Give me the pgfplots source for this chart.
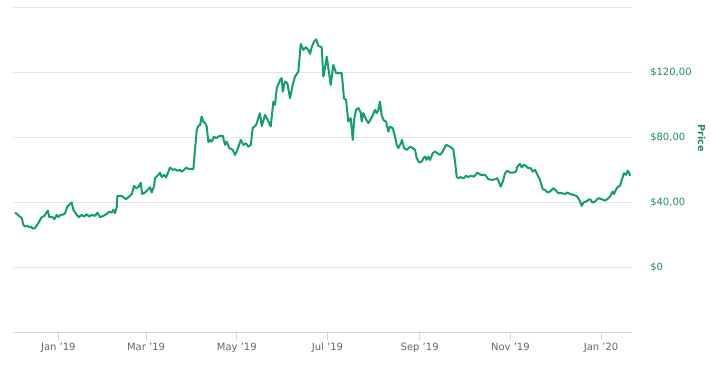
\documentclass[border=0pt]{standalone}
\usepackage{pgfplots}
\pgfplotsset{compat=1.18}
\usepackage{fontspec}
\setmainfont{DejaVu Sans}
\definecolor{linec}{HTML}{129E72}
\definecolor{labc}{HTML}{1E8C68}
\definecolor{gridc}{HTML}{E6E6E6}
\definecolor{axisc}{HTML}{CCD6EB}
\definecolor{tickc}{HTML}{666666}
\begin{document}
\begin{tikzpicture}
\useasboundingbox (-13bp,-37bp) rectangle (698bp,332bp);
\begin{axis}[
  at={(0,0)}, anchor=south west,
  scale only axis, width=619bp, height=324bp,
  xmin=-30.5, xmax=385.8, ymin=-40, ymax=160,
  axis x line*=bottom, axis y line*=right,
  x axis line style={color=axisc, line width=1bp, -},
  y axis line style={draw=none},
  xtick={0,59,120,181,243,304,365},
  xticklabels={Jan '19,Mar '19,May '19,Jul '19,Sep '19,Nov '19,Jan '20},
  xtick style={color=axisc, line width=1bp},
  tick align=outside,
  x tick style={/pgfplots/major tick length=8bp},
  ytick={0,40,80,120,160},
  yticklabels={{\$0},{\$40,00},{\$80,00},{\$120,00},{}},
  ytick style={draw=none},
  ymajorgrids, grid style={color=gridc, line width=1bp},
  xticklabel style={font=\fontsize{10bp}{12bp}\selectfont, text=tickc, yshift=-3bp},
  yticklabel style={font=\fontsize{10bp}{12bp}\selectfont, text=labc, anchor=west, xshift=10.5bp},
  clip=false,
]
\addplot[color=linec, line width=2bp, line join=round] coordinates {
(-29.1,33.7) (-26.4,31.7) (-24.6,30.2) (-23.5,26.1) (-22.4,25.1) (-20.8,25.5) (-19.5,24.7) (-18.4,25.1) (-17.2,23.8) (-15.7,24.1)
(-13.5,27.2) (-11.2,30.9) (-9.4,31.7) (-8.3,33.3) (-7.1,34.9) (-6.1,30.9) (-3.8,30.9) (-2.7,29.6) (-1.1,32.3) (0,30.9)
(1.6,32.3) (3.4,32.5) (4.5,33.3) (6.1,37.4) (7.9,39.1) (9.0,39.9) (10.1,35.4) (12.4,32.3) (13.9,30.9) (15.7,32.3)
(17.3,31.2) (19.1,32.7) (20.8,31.2) (22.5,32.3) (24.7,31.7) (26.2,33.7) (28.0,30.9) (30.3,31.7) (32.5,32.9) (34.3,34.3)
(35.9,33.7) (37.0,35.4) (38.1,33.3) (39.3,37.4) (39.7,44.0) (42.6,44.0) (45.5,42.0) (47.1,43.2) (49.4,45.2) (50.9,50.2)
(52.3,48.8) (53.8,49.4) (55.4,52.2) (56.3,45.2) (58.3,46.1) (60.5,48.1) (61.7,49.4) (62.8,46.1) (64.4,50.2) (65.0,54.9)
(67.3,57.0) (68.4,58.4) (69.5,55.6) (71.1,57.0) (72.4,55.3) (74.0,59.0) (75.1,61.5) (76.9,60.1) (78.5,60.5) (80.0,59.6)
(81.8,60.1) (83.0,59.0) (84.5,60.1) (85.9,61.5) (87.4,60.7) (89.0,60.7) (90.8,60.5) (91.9,72.4) (93.1,84.8) (94.2,87.2)
(95.3,87.8) (96.4,93.0) (97.5,89.9) (98.7,88.9) (99.8,86.8) (100.9,77.2) (102.0,78.6) (103.2,77.5) (104.7,80.6) (106.1,79.6)
(107.6,80.6) (108.7,81.1) (110.6,81.1) (112.1,75.5) (113.2,77.5) (115.0,73.5) (117.3,72.4) (118.8,69.3) (120.4,72.4) (122.7,78.6)
(124.4,75.5) (126.2,76.5) (127.8,74.4) (129.4,75.5) (130.7,85.8) (133.0,87.8) (135.6,95.1) (136.8,87.2) (139.0,94.0) (140.6,91.4)
(142.8,86.8) (144.6,102.2) (145.7,100.2) (146.9,110.5) (149.1,115.6) (150.2,116.7) (150.9,108.4) (152.5,114.6) (154.0,113.6) (155.8,104.3)
(157.6,112.5) (159.2,117.7) (161.4,120.7) (163.0,137.8) (164.8,134.1) (166.6,135.8) (168.1,134.1) (169.3,131.7) (170.4,135.8) (172.0,139.3)
(173.3,140.7) (174.9,136.6) (177.1,135.8) (178.2,117.7) (178.9,120.7) (180.5,130.0) (181.6,122.8) (183.2,112.5) (184.9,124.9) (186.8,119.8)
(189.0,119.8) (190.6,119.8) (192.1,104.3) (193.5,103.3) (195.0,89.9) (196.6,92.0) (198.0,78.6) (198.9,90.9) (200.2,97.1) (201.8,98.2)
(203.4,95.4) (204.0,89.9) (205.1,95.1) (206.9,91.4) (208.5,88.9) (210.8,92.6) (213.0,97.1) (214.1,95.1) (215.2,97.1) (216.3,102.2)
(217.5,93.4) (219.0,90.5) (220.4,89.9) (221.9,83.7) (223.1,86.8) (224.9,85.8) (226.4,80.6) (227.6,75.5) (228.7,73.5) (230.3,76.5)
(231.1,78.6) (232.5,73.5) (234.3,72.4) (236.5,74.4) (238.3,73.5) (239.9,72.4) (241.0,67.3) (242.8,64.6) (244.4,65.2) (245.5,67.3)
(246.6,68.3) (247.7,66.2) (248.8,68.3) (250.0,66.2) (251.8,70.4) (253.3,71.4) (254.9,70.4) (256.7,69.3) (258.5,71.4) (260.7,75.5)
(262.3,74.9) (263.9,74.1) (265.6,72.8) (266.8,65.2) (267.9,55.9) (269.0,54.9) (270.6,55.6) (272.4,54.9) (274.2,56.4) (275.7,55.6)
(277.3,56.4) (279.6,55.9) (281.8,58.4) (284.1,57.0) (287.0,57.0) (289.2,54.3) (291.5,53.9) (293.7,54.3) (295.2,54.9) (296.6,51.9)
(297.5,49.8) (298.9,52.8) (300.4,58.0) (302.0,59.6) (303.8,58.4) (306.0,58.4) (307.8,59.0) (308.7,62.1) (310.5,63.8) (311.6,61.7)
(313.2,63.2) (314.5,62.5) (316.1,61.1) (317.7,61.1) (319.0,59.0) (320.6,60.1) (321.7,58.0) (323.9,53.9) (325.8,48.1) (327.3,47.7)
(328.9,46.1) (330.7,46.7) (332.9,48.8) (334.7,47.3) (336.3,45.7) (338.5,45.7) (340.8,45.2) (342.3,46.1) (344.1,45.2) (346.3,44.6)
(348.6,44.0) (350.4,41.5) (352.0,37.8) (353.1,39.9) (354.9,40.5) (356.4,41.5) (357.6,42.0) (359.4,39.9) (360.9,40.5) (363.2,42.6)
(365.4,42.0) (367.6,41.1) (369.2,42.0) (371.0,43.6) (372.8,46.7) (373.7,45.2) (375.1,48.1) (376.6,49.8) (377.7,50.2) (378.9,53.9)
(380.4,58.0) (381.8,57.0) (382.9,59.6) (384.0,58.0) (384.5,56.4)
};
\end{axis}
\node[rotate=-90, text=labc, font=\fontsize{9.5bp}{11bp}\selectfont\bfseries] at (688.7bp,194bp) {Price};
\end{tikzpicture}
\end{document}
